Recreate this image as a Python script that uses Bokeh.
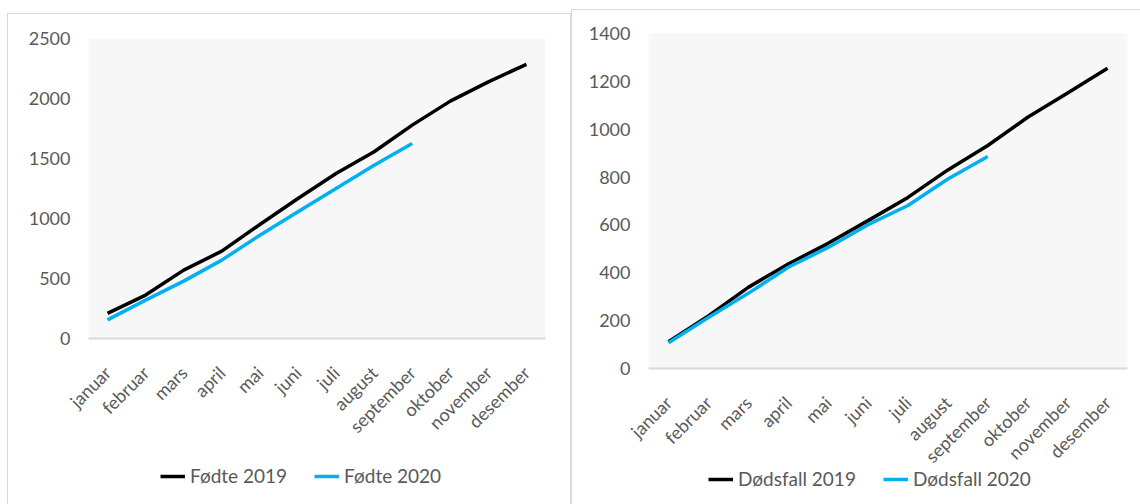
import math
from bokeh.plotting import figure
from bokeh.layouts import row, column
from bokeh.models import Legend, LegendItem, Range1d, FixedTicker
from bokeh.embed import file_html
from bokeh.resources import INLINE

months = ["januar", "februar", "mars", "april", "mai", "juni", "juli",
          "august", "september", "oktober", "november", "desember"]

fodte_2019 = [210, 362, 570, 728, 950, 1167, 1375, 1556, 1778, 1978, 2139, 2285]
fodte_2020 = [155, 320, 478, 653, 861, 1056, 1250, 1444, 1625]

dodsfall_2019 = [112, 220, 339, 437, 523, 618, 715, 830, 932, 1050, 1151, 1255]
dodsfall_2020 = [108, 213, 314, 423, 506, 601, 681, 792, 886]

left_ticks = [0, 500, 1000, 1500, 2000, 2500]
right_ticks = [0, 200, 400, 600, 800, 1000, 1200, 1400]

FONT = "Lato"
GRAY = "#595959"
BLACK = "#000000"
BLUE = "#00b0f0"


def make_chart(s19, s20, ticks, width, height, mb):
    p = figure(x_range=months, y_range=Range1d(ticks[0], ticks[-1]),
               width=width, height=height, output_backend="svg",
               toolbar_location=None, min_border_left=mb[0], min_border_right=mb[1],
               min_border_top=mb[2], min_border_bottom=mb[3])
    p.background_fill_color = "#f7f7f7"
    p.border_fill_color = "white"
    p.outline_line_color = None
    p.xgrid.grid_line_color = None
    p.ygrid.grid_line_color = None

    p.line(months[:len(s19)], s19, line_color=BLACK, line_width=3.5)
    p.line(months[:len(s20)], s20, line_color=BLUE, line_width=3.5)

    p.yaxis.ticker = FixedTicker(ticks=ticks)
    p.yaxis.axis_line_color = None
    p.yaxis.major_tick_line_color = None
    p.yaxis.minor_tick_line_color = None
    p.yaxis.major_label_text_font = FONT
    p.yaxis.major_label_text_font_size = "18px"
    p.yaxis.major_label_text_color = GRAY
    p.yaxis.major_label_standoff = 12

    p.xaxis.axis_line_color = "#d9d9d9"
    p.xaxis.axis_line_width = 2
    p.xaxis.major_tick_line_color = None
    p.xaxis.minor_tick_line_color = None
    p.xaxis.major_label_orientation = math.pi / 4
    p.xaxis.major_label_text_font = FONT
    p.xaxis.major_label_text_font_size = "18px"
    p.xaxis.major_label_text_color = GRAY
    p.xaxis.major_label_standoff = 25
    return p


def make_legend(title19, title20, s19, s20, width, height, loc):
    # legend-only figure: the series lie outside its (empty) y range
    q = figure(x_range=months, y_range=Range1d(-2, -1), width=width, height=height,
               output_backend="svg", toolbar_location=None,
               x_axis_location=None, y_axis_location=None,
               min_border_left=0, min_border_right=0, min_border_top=0, min_border_bottom=0)
    q.grid.visible = False
    q.outline_line_color = None
    q.background_fill_alpha = 0
    q.border_fill_alpha = 0
    r1 = q.line(months[:len(s19)], s19, line_color=BLACK, line_width=3.5)
    r2 = q.line(months[:len(s20)], s20, line_color=BLUE, line_width=3.5)
    legend = Legend(items=[LegendItem(label=title19, renderers=[r1]),
                           LegendItem(label=title20, renderers=[r2])],
                    orientation="horizontal", location=loc,
                    padding=0, margin=0, spacing=27, label_standoff=5,
                    glyph_width=25, glyph_height=20, label_height=20,
                    label_text_font=FONT, label_text_font_size="19px",
                    label_text_color=GRAY, background_fill_alpha=0,
                    border_line_color=None)
    q.add_layout(legend, "center")
    return q


p1 = make_chart(fodte_2019, fodte_2020, left_ticks, 562, 490, (80, 25, 24, 166))
l1 = make_legend("Fødte 2019", "Fødte 2020", fodte_2019, fodte_2020, 562, 40, (72, 17))
l1.margin = (-40, 0, 0, 0)
p2 = make_chart(dodsfall_2019, dodsfall_2020, right_ticks, 570, 494, (76, 15, 23, 136))
l2 = make_legend("Dødsfall 2019", "Dødsfall 2020", dodsfall_2019, dodsfall_2020,
                 570, 40, (60, 14))
l2.margin = (-40, 0, 0, 0)

c1 = column(p1, l1, spacing=0)
c1.margin = (13, 0, 0, 7)
c1.styles = {"border": "1px solid #d9d9d9"}
c2 = column(p2, l2, spacing=0)
c2.margin = (9, 0, 0, 0)
c2.styles = {"border": "1px solid #d9d9d9"}

layout = row(c1, c2, spacing=0)
layout.margin = 0

with open("out.html", "w") as f:
    f.write(file_html(layout, INLINE))
